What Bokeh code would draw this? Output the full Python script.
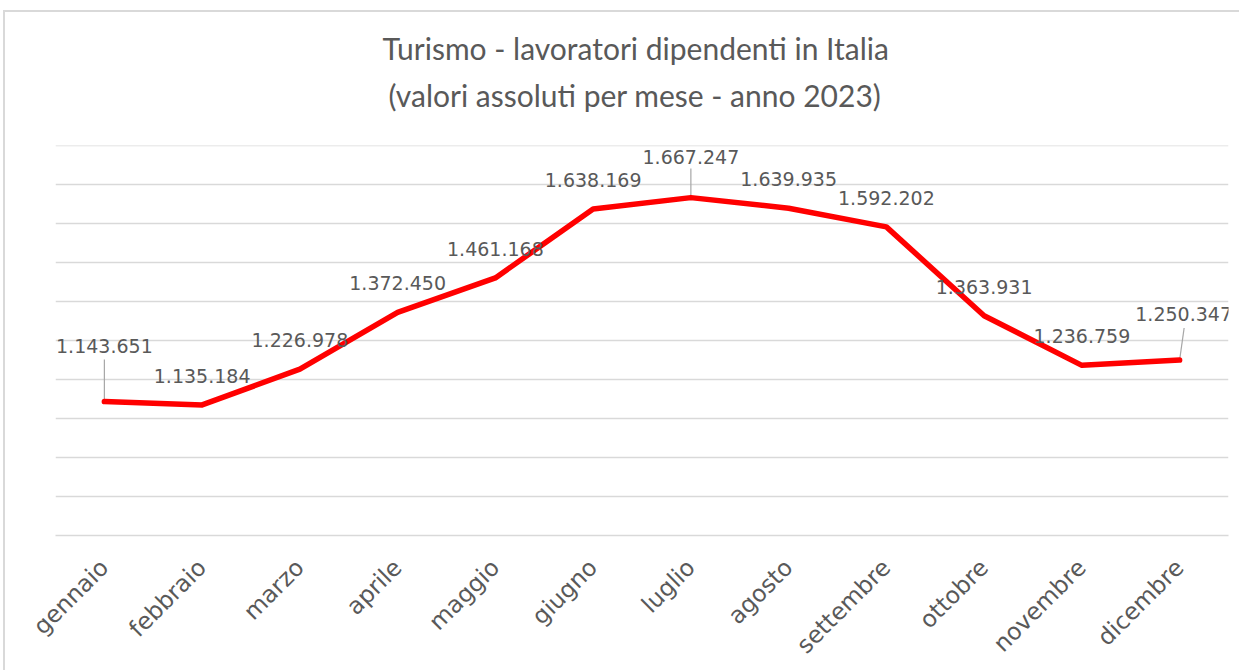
import math
from bokeh.plotting import figure
from bokeh.models import (ColumnDataSource, Range1d, FactorRange, FixedTicker, Title)
from bokeh.transform import dodge
from bokeh.embed import file_html
from bokeh.resources import INLINE

# ---- data ----
months = ["gennaio", "febbraio", "marzo", "aprile", "maggio", "giugno",
          "luglio", "agosto", "settembre", "ottobre", "novembre", "dicembre"]
workers = [1143651, 1135184, 1226978, 1372450, 1461168, 1638169,
           1667247, 1639935, 1592202, 1363931, 1236759, 1250347]
labels = ["1.143.651", "1.135.184", "1.226.978", "1.372.450", "1.461.168", "1.638.169",
          "1.667.247", "1.639.935", "1.592.202", "1.363.931", "1.236.759", "1.250.347"]
title_line1 = "Turismo - lavoratori dipendenti in Italia"
title_line2 = "(valori assoluti per mese - anno 2023)"

# ---- styling ----
Y_MIN, Y_MAX = 800000, 1801000
GRID_STEP = 100000
FRAME_W, FRAME_H = 1173, 390
GREY_TXT = "#595959"
GRID = "#d9d9d9"
label_off = {"gennaio": (0, -56), "luglio": (0, -41), "dicembre": (4, -46)}
default_off = (0, -29)
leader_px = {"gennaio": (42, 0), "luglio": (29, 0), "dicembre": (32, 4.5)}

p = figure(frame_width=FRAME_W, frame_height=FRAME_H, x_range=FactorRange(*months),
           y_range=Range1d(Y_MIN, Y_MAX), output_backend="svg",
           toolbar_location=None, title=None,
           min_border_left=50, min_border_right=11,
           min_border_top=133, min_border_bottom=128,
           styles={"margin-left": "3px", "margin-top": "10px",
                   "border-left": "2px solid #d9d9d9", "border-top": "2px solid #d9d9d9"})

p.add_layout(Title(text=title_line2, align="left", offset=333, text_font="Lato",
                   text_font_size="30px", text_font_style="normal",
                   text_color=GREY_TXT, standoff=66), "above")
p.add_layout(Title(text=title_line1, align="left", offset=327, text_font="Lato",
                   text_font_size="30px", text_font_style="normal",
                   text_color=GREY_TXT, standoff=-48), "above")

p.outline_line_color = None
p.background_fill_color = "white"
p.border_fill_color = "white"

p.yaxis.visible = False
p.yaxis.ticker = FixedTicker(ticks=list(range(Y_MIN, Y_MAX + 1, GRID_STEP)))
p.ygrid.grid_line_color = GRID
p.ygrid.grid_line_width = 1.5
p.xgrid.grid_line_color = None

xa = p.xaxis[0]
xa.axis_line_color = GRID
xa.axis_line_width = 1.5
xa.major_tick_line_color = None
xa.minor_tick_line_color = None
xa.major_label_orientation = math.pi / 4
xa.major_label_text_font = "DejaVu Sans"
xa.major_label_text_font_size = "23.5px"
xa.major_label_text_color = GREY_TXT
xa.major_label_standoff = 22

src = ColumnDataSource(dict(
    m=months, v=workers, lab=labels,
    dx=[label_off.get(m, default_off)[0] for m in months],
    dy=[label_off.get(m, default_off)[1] for m in months],
))

per_px = (Y_MAX - Y_MIN) / FRAME_H
vert = [m for m in months if m in leader_px and leader_px[m][1] == 0]
lsrc = ColumnDataSource(dict(
    m=vert,
    y0=[workers[months.index(m)] for m in vert],
    y1=[workers[months.index(m)] + leader_px[m][0] * per_px for m in vert],
))
p.segment(x0="m", y0="y0", x1="m", y1="y1", source=lsrc,
          line_color="#a6a6a6", line_width=1.2)
slant = [m for m in months if m in leader_px and leader_px[m][1] != 0]
for m in slant:
    s2 = ColumnDataSource(dict(m=[m], y0=[workers[months.index(m)]],
                               y1=[workers[months.index(m)] + leader_px[m][0] * per_px]))
    p.segment(x0="m", y0="y0", x1=dodge("m", leader_px[m][1] / (FRAME_W / 12), range=p.x_range),
              y1="y1", source=s2, line_color="#a6a6a6", line_width=1.2)

p.line(x="m", y="v", source=src, line_color="#ff0000", line_width=5.5,
       line_join="round", line_cap="round")

p.text(x="m", y="v", text="lab", source=src, x_offset="dx", y_offset="dy",
       text_align="center", text_baseline="middle",
       text_font={"value": "DejaVu Sans"}, text_font_size="19px",
       text_color=GREY_TXT)

open("out.html", "w").write(file_html(p, INLINE))
